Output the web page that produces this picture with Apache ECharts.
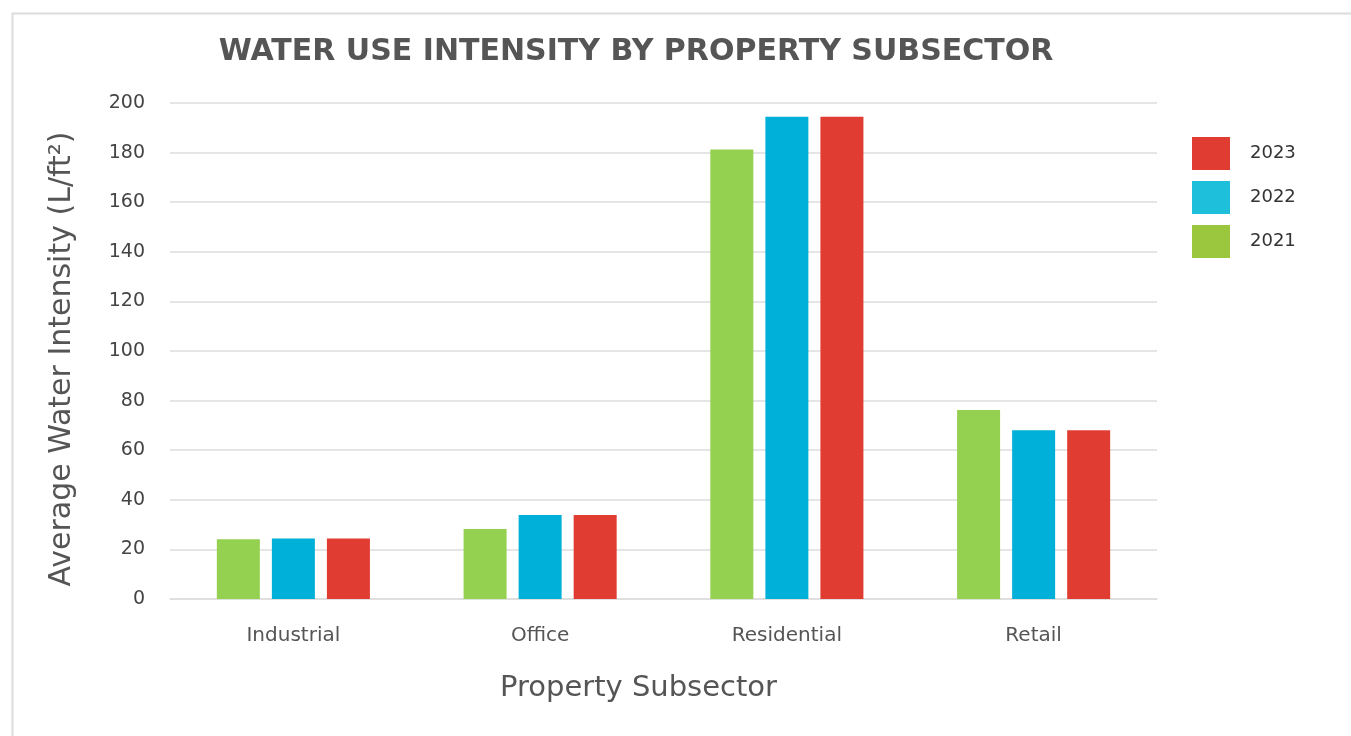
<!DOCTYPE html>
<html>
<head>
<meta charset="utf-8">
<script src="https://cdn.jsdelivr.net/npm/echarts@6/dist/echarts.min.js"></script>
<style>
html,body{margin:0;padding:0;background:#fff;}
#c{width:1351px;height:736px;}
</style>
</head>
<body>
<div id="c"></div>
<script>
const categories = ['Industrial', 'Office', 'Residential', 'Retail'];
const years = ['2021', '2022', '2023'];
const values2021 = [24.1, 28.2, 181.3, 76.2];
const values2022 = [24.4, 33.9, 194.5, 68.0];
const values2023 = [24.4, 33.9, 194.5, 68.0];
const legendOrder = ['2023', '2022', '2021'];

const barColors = {'2021': '#95D150', '2022': '#00B0D8', '2023': '#E03C31'};
const legendColors = {'2021': '#9AC73D', '2022': '#1EBFDB', '2023': '#E03C31'};
const seriesValues = {'2021': values2021, '2022': values2022, '2023': values2023};

const FONT = 'DejaVu Sans';
const chart = echarts.init(document.getElementById('c'), null, {renderer: 'canvas'});
chart.setOption({
  animation: false,
  backgroundColor: '#fff',
  graphic: [{
    type: 'rect', left: 10, top: 11,
    shape: {width: 1400, height: 800},
    style: {fill: 'none', stroke: '#dcdcdc', lineWidth: 2},
    silent: true
  }],
  title: {
    text: 'WATER USE INTENSITY BY PROPERTY SUBSECTOR',
    left: 631, top: 32, textAlign: 'center',
    textStyle: {fontFamily: FONT, fontWeight: 'bold', fontSize: 30, color: '#555555'}
  },
  legend: {
    orient: 'vertical', left: 1187, top: 132,
    itemWidth: 38, itemHeight: 33, itemGap: 11,
    icon: 'rect',
    data: legendOrder.map(y => ({name: y, itemStyle: {color: legendColors[y]}})),
    textStyle: {fontFamily: FONT, fontSize: 18, color: '#333', padding: [0, 0, 0, 15]}
  },
  grid: {left: 170, right: 1351 - 1157, top: 103, bottom: 736 - 599, containLabel: false},
  xAxis: {
    type: 'category', data: categories,
    name: 'Property Subsector', nameLocation: 'middle', nameGap: 75,
    nameTextStyle: {fontFamily: FONT, fontSize: 29, color: '#555555', padding: [0, 50, 0, 0]},
    axisLine: {show: true, lineStyle: {color: '#dddddd', width: 1.5}},
    axisTick: {show: false},
    axisLabel: {fontFamily: FONT, fontSize: 20, color: '#555555', margin: 27}
  },
  yAxis: {
    type: 'value', min: 0, max: 200, interval: 20,
    name: 'Average Water Intensity (L/ft²)', nameLocation: 'middle', nameGap: 93,
    nameTextStyle: {fontFamily: FONT, fontSize: 30, color: '#555555', padding: [0, 16, 0, 0]},
    axisLine: {show: false}, axisTick: {show: false},
    splitLine: {lineStyle: {color: '#dddddd', width: 1.5}},
    axisLabel: {fontFamily: FONT, fontSize: 19, color: '#444444', margin: 25}
  },
  series: years.map(y => ({
    name: y, type: 'bar',
    data: seriesValues[y],
    barWidth: 43, barGap: '28%',
    itemStyle: {color: barColors[y]}
  }))
});
</script>
</body>
</html>
